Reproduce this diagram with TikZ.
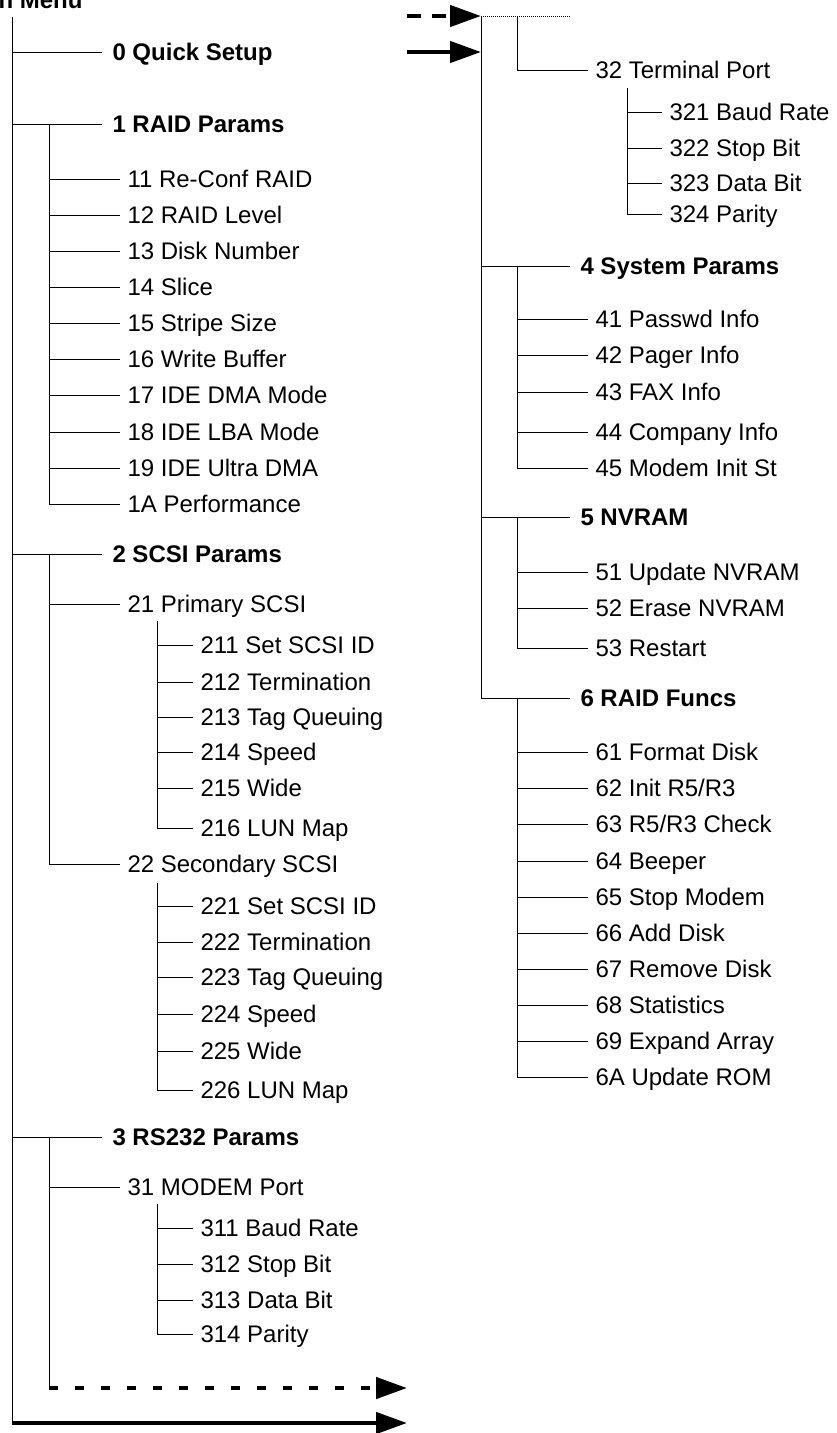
\documentclass[tikz,border=0pt]{standalone}
\usepackage{fontspec}
\setmainfont{Liberation Sans}
\usetikzlibrary{arrows.meta}

\begin{document}
\begin{tikzpicture}[x=1pt, y=-1pt, line width=1pt,
        item/.style={anchor=west, inner xsep=7pt, inner ysep=0pt, text height=17pt, text depth=0pt,
            font=\fontsize{24pt}{28pt}\selectfont},
        head/.style={item, inner xsep=10pt, font=\fontsize{24pt}{28pt}\selectfont\bfseries},
        jump/.style={line width=4.5pt, -{Triangle[length=31pt,width=21pt]}},
        jumpdash/.style={jump, dash pattern=on 9.3pt off 16.7pt}]
            \useasboundingbox (0,0) rectangle (836,1433);

            \node[font=\fontsize{24pt}{28pt}\selectfont\bfseries, anchor=base east, inner sep=0pt] (title) at (83,8) {Main Menu};

            % left column
            \coordinate (top) at (12,17);
            \coordinate (bot) at (12,1423);
            \coordinate (s1) at (49,124);
            \coordinate (s2) at (49,554);
            \coordinate (s21) at (157,621);
            \coordinate (s22) at (157,883);
            \coordinate (s3) at (49,1137);
            \coordinate (s31) at (157,1204);
            \coordinate (d0) at (49,1388);
            \coordinate (d1) at (407,1388);
            \coordinate (e1) at (407,1423);

            \node[head] (h0) at (102,52) {0 Quick Setup};
            \node[head] (h1) at (102,124) {1 RAID Params};
            \node[item] (n11) at (120,179) {11 Re-Conf RAID};
            \node[item] (n12) at (120,215) {12 RAID Level};
            \node[item] (n13) at (120,251) {13 Disk Number};
            \node[item] (n14) at (120,287) {14 Slice};
            \node[item] (n15) at (120,323) {15 Stripe Size};
            \node[item] (n16) at (120,359) {16 Write Buffer};
            \node[item] (n17) at (120,395) {17 IDE DMA Mode};
            \node[item] (n18) at (120,432) {18 IDE LBA Mode};
            \node[item] (n19) at (120,468) {19 IDE Ultra DMA};
            \node[item] (n1A) at (120,504) {1A Performance};
            \node[head] (h2) at (102,554) {2 SCSI Params};
            \node[item] (n21) at (120,604) {21 Primary SCSI};
            \node[item] (n211) at (193,645) {211 Set SCSI ID};
            \node[item] (n212) at (193,682) {212 Termination};
            \node[item] (n213) at (193,717) {213 Tag Queuing};
            \node[item] (n214) at (193,752) {214 Speed};
            \node[item] (n215) at (193,788) {215 Wide};
            \node[item] (n216) at (193,828) {216 LUN Map};
            \node[item] (n22) at (120,864) {22 Secondary SCSI};
            \node[item] (n221) at (193,906) {221 Set SCSI ID};
            \node[item] (n222) at (193,942) {222 Termination};
            \node[item] (n223) at (193,977) {223 Tag Queuing};
            \node[item] (n224) at (193,1014) {224 Speed};
            \node[item] (n225) at (193,1051) {225 Wide};
            \node[item] (n226) at (193,1090) {226 LUN Map};
            \node[head] (h3) at (102,1137) {3 RS232 Params};
            \node[item] (n31) at (120,1187) {31 MODEM Port};
            \node[item] (n311) at (193,1228) {311 Baud Rate};
            \node[item] (n312) at (193,1264) {312 Stop Bit};
            \node[item] (n313) at (193,1300) {313 Data Bit};
            \node[item] (n314) at (193,1334) {314 Parity};

            \draw (top) -- (bot);
            \draw (top |- h0) -- (h0.west);
            \draw (top |- h1) -- (h1.west);
            \draw (top |- h2) -- (h2.west);
            \draw (top |- h3) -- (h3.west);

            \draw (s1) |- (n1A.west);
            \draw (s1 |- n11) -- (n11.west);
            \draw (s1 |- n12) -- (n12.west);
            \draw (s1 |- n13) -- (n13.west);
            \draw (s1 |- n14) -- (n14.west);
            \draw (s1 |- n15) -- (n15.west);
            \draw (s1 |- n16) -- (n16.west);
            \draw (s1 |- n17) -- (n17.west);
            \draw (s1 |- n18) -- (n18.west);
            \draw (s1 |- n19) -- (n19.west);

            \draw (s2) |- (n22.west);
            \draw (s2 |- n21) -- (n21.west);
            \draw (s21) |- (n216.west);
            \draw (s21 |- n211) -- (n211.west);
            \draw (s21 |- n212) -- (n212.west);
            \draw (s21 |- n213) -- (n213.west);
            \draw (s21 |- n214) -- (n214.west);
            \draw (s21 |- n215) -- (n215.west);
            \draw (s22) |- (n226.west);
            \draw (s22 |- n221) -- (n221.west);
            \draw (s22 |- n222) -- (n222.west);
            \draw (s22 |- n223) -- (n223.west);
            \draw (s22 |- n224) -- (n224.west);
            \draw (s22 |- n225) -- (n225.west);

            \draw (s3) -- (d0);
            \draw (s3 |- n31) -- (n31.west);
            \draw (s31) |- (n314.west);
            \draw (s31 |- n311) -- (n311.west);
            \draw (s31 |- n312) -- (n312.west);
            \draw (s31 |- n313) -- (n313.west);

            \draw[jumpdash] (d0) -- (d1);
            \draw[jump] (bot) -- (e1);

            % right column
            \coordinate (r0) at (481,16);
            \coordinate (r1) at (571,16);
            \coordinate (a0) at (407,16);
            \coordinate (b0) at (407,52);
            \coordinate (s32) at (517,16);
            \coordinate (s321) at (627,88);
            \coordinate (s4) at (517,266);
            \coordinate (s5) at (517,517);
            \coordinate (s6) at (517,698);

            \node[item] (n32) at (588,70) {32 Terminal Port};
            \node[item] (n321) at (662,112) {321 Baud Rate};
            \node[item] (n322) at (662,148) {322 Stop Bit};
            \node[item] (n323) at (662,183) {323 Data Bit};
            \node[item] (n324) at (662,214) {324 Parity};
            \node[head] (h4) at (570,266) {4 System Params};
            \node[item] (n41) at (588,319) {41 Passwd Info};
            \node[item] (n42) at (588,355) {42 Pager Info};
            \node[item] (n43) at (588,392) {43 FAX Info};
            \node[item] (n44) at (588,432) {44 Company Info};
            \node[item] (n45) at (588,468) {45 Modem Init St};
            \node[head] (h5) at (570,517) {5 NVRAM};
            \node[item] (n51) at (588,572) {51 Update NVRAM};
            \node[item] (n52) at (588,608) {52 Erase NVRAM};
            \node[item] (n53) at (588,648) {53 Restart};
            \node[head] (h6) at (570,698) {6 RAID Funcs};
            \node[item] (n61) at (588,752) {61 Format Disk};
            \node[item] (n62) at (588,788) {62 Init R5/R3};
            \node[item] (n63) at (588,824) {63 R5/R3 Check};
            \node[item] (n64) at (588,861) {64 Beeper};
            \node[item] (n65) at (588,897) {65 Stop Modem};
            \node[item] (n66) at (588,933) {66 Add Disk};
            \node[item] (n67) at (588,969) {67 Remove Disk};
            \node[item] (n68) at (588,1005) {68 Statistics};
            \node[item] (n69) at (588,1041) {69 Expand Array};
            \node[item] (n6A) at (588,1077) {6A Update ROM};

            \draw[jump, dash pattern=on 14pt off 11pt] (a0) -- (r0);
            \draw[jump] (b0) -- (r0 |- b0);
            \draw[line width=0.6pt, dash pattern=on 1pt off 1pt] (r0) -- (r1);

            \draw (r0) |- (h6.west);
            \draw (r0 |- h4) -- (h4.west);
            \draw (r0 |- h5) -- (h5.west);

            \draw (s32) |- (n32.west);
            \draw (s321) |- (n324.west);
            \draw (s321 |- n321) -- (n321.west);
            \draw (s321 |- n322) -- (n322.west);
            \draw (s321 |- n323) -- (n323.west);

            \draw (s4) |- (n45.west);
            \draw (s4 |- n41) -- (n41.west);
            \draw (s4 |- n42) -- (n42.west);
            \draw (s4 |- n43) -- (n43.west);
            \draw (s4 |- n44) -- (n44.west);

            \draw (s5) |- (n53.west);
            \draw (s5 |- n51) -- (n51.west);
            \draw (s5 |- n52) -- (n52.west);

            \draw (s6) |- (n6A.west);
            \draw (s6 |- n61) -- (n61.west);
            \draw (s6 |- n62) -- (n62.west);
            \draw (s6 |- n63) -- (n63.west);
            \draw (s6 |- n64) -- (n64.west);
            \draw (s6 |- n65) -- (n65.west);
            \draw (s6 |- n66) -- (n66.west);
            \draw (s6 |- n67) -- (n67.west);
            \draw (s6 |- n68) -- (n68.west);
            \draw (s6 |- n69) -- (n69.west);
        \end{tikzpicture}
\end{document}
